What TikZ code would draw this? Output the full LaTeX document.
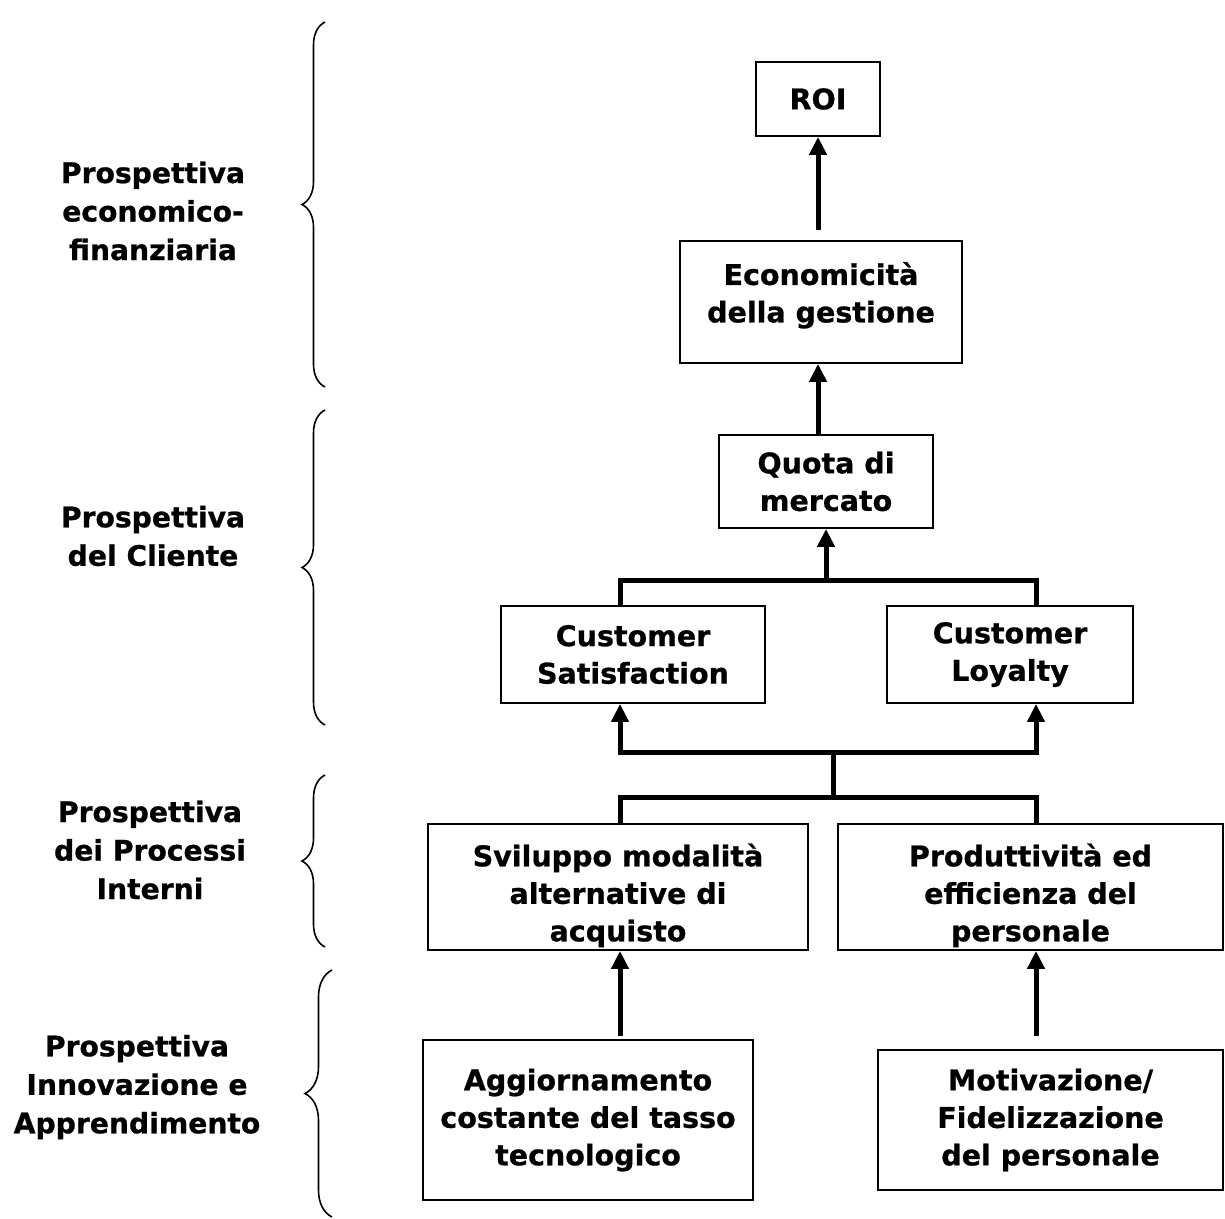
\documentclass[tikz,border=0pt]{standalone}
\usepackage{fontspec}
\setmainfont{DejaVu Sans}[BoldFeatures={FakeBold=0.8}]
\usetikzlibrary{arrows.meta,decorations.pathreplacing}
\begin{document}
\begin{tikzpicture}[x=1pt,y=-1pt,
  blk/.style={draw,line width=1.8pt,align=center,inner sep=0pt,font=\fontsize{28.5}{37.5}\selectfont\bfseries},
  lnk/.style={line width=5pt},
  lnkarr/.style={lnk,-{Triangle[length=18pt,width=17pt]}},
  persp/.style={align=center,font=\fontsize{28.2}{38.5}\selectfont\bfseries},
  grp/.style={line width=1.6pt,decorate,decoration={brace,amplitude=#1}}]
\useasboundingbox (0,0) rectangle (1225,1218);
\foreach \x/\ya/\yb/\a in {325/22/387/23, 325/410/725/23, 325/775/947/23, 332/970/1217/27}
  \draw[grp=\a] (\x,\yb) -- (\x,\ya);
\node[persp] (p1) at (153,211) {Prospettiva\\economico-\\finanziaria};
\node[persp] (p2) at (153,536) {Prospettiva\\del Cliente};
\node[persp] (p3) at (150,850) {Prospettiva\\dei Processi\\Interni};
\node[persp] (p4) at (137,1087) {Prospettiva\\Innovazione e\\Apprendimento};
\node[blk,minimum width=124pt,minimum height=74pt] (roi) at (818,99) {ROI};
\node[blk,minimum width=282pt,minimum height=122pt] (eco) at (821,302) {Economicità\\della gestione\\[-18pt]\mbox{}};
\node[blk,minimum width=214pt,minimum height=93pt] (quota) at (826,481.5) {Quota di\\mercato};
\node[blk,minimum width=264pt,minimum height=97pt] (csat) at (633,654.5) {Customer\\Satisfaction};
\node[blk,minimum width=246pt,minimum height=97pt] (cloy) at (1010,654.5) {Customer\\Loyalty};
\node[blk,minimum width=380pt,minimum height=126pt] (svil) at (618,887) {\mbox{}\\[2pt]Sviluppo modalità\\alternative di\\acquisto};
\node[blk,minimum width=385pt,minimum height=126pt] (prod) at (1030.5,887) {\mbox{}\\[2pt]Produttività ed\\efficienza del\\personale};
\node[blk,minimum width=330pt,minimum height=160pt] (agg) at (588,1120) {Aggiornamento\\costante del tasso\\tecnologico};
\node[blk,minimum width=345pt,minimum height=140pt] (moti) at (1050.5,1120) {Motivazione/\\Fidelizzazione\\del personale};
\coordinate (xl) at (620,0);
\coordinate (xr) at (1036,0);
\coordinate (b1) at (826,580);
\coordinate (b2) at (833,752);
\coordinate (b3) at (833,797);
\draw[lnkarr] ([yshift=10pt]eco.north -| roi.south) -- (roi.south);
\draw[lnkarr] (quota.north -| roi.south) -- (eco.south -| roi.south);
\draw[lnk] (csat.north -| xl) |- (b1) -| (cloy.north -| xr);
\draw[lnkarr] (b1) -- (quota.south -| b1);
\draw[lnkarr] (b2) -| (csat.south -| xl);
\draw[lnkarr] (b2) -| (cloy.south -| xr);
\draw[lnk] (b2) -- (b3);
\draw[lnk] (svil.north -| xl) |- (b3) -| (prod.north -| xr);
\draw[lnkarr] ([yshift=3pt]agg.north -| xl) -- (svil.south -| xl);
\draw[lnkarr] ([yshift=13pt]moti.north -| xr) -- (prod.south -| xr);
\end{tikzpicture}
\end{document}
